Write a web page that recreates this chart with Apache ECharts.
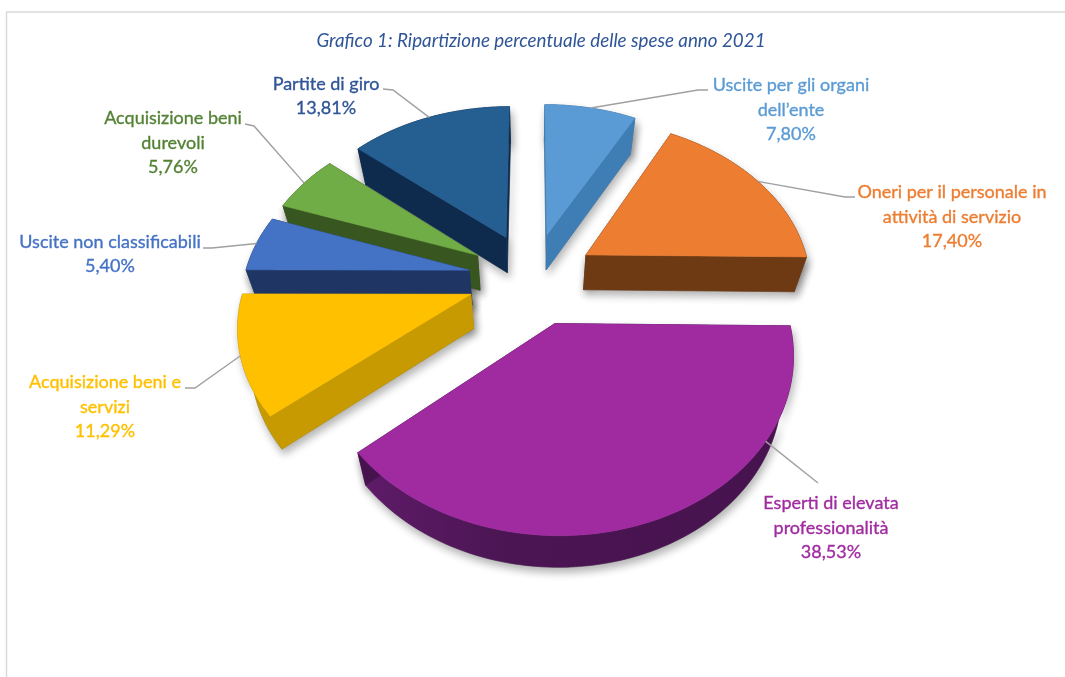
<!DOCTYPE html>
<html><head><meta charset="utf-8">
<style>html,body{margin:0;padding:0;background:#fff}#c{width:1065px;height:677px}</style>
<script src="https://cdn.jsdelivr.net/npm/echarts@6/dist/echarts.min.js"></script>
</head><body><div id="c"></div>
<script>
const categories = ["Uscite per gli organi\ndell’ente","Oneri per il personale in\nattività di servizio","Esperti di elevata\nprofessionalità","Acquisizione beni e\nservizi","Uscite non classificabili","Acquisizione beni\ndurevoli","Partite di giro"];
const shares = [7.80,17.40,38.53,11.29,5.40,5.76,13.81];
const shareLabels = ["7,80%","17,40%","38,53%","11,29%","5,40%","5,76%","13,81%"];
const topColors = ["#5b9bd5","#ed7d31","#a02ba0","#ffc000","#4472c4","#70ad47","#255e91"];
const wallColors = ["#3f7db5","#6e3a14","#47134f","#c69a00","#1f3664","#38561f","#0e2b4d"];
const textColors = ["#5b9bd5","#ed7d31","#a02ba0","#ffc000","#4472c4","#548235","#2f5597"];
const paintOrder = [6,0,5,1,4,3,2];
const labelCenters = [[791,110],[952,217],[831,528],[105,407],[110,254],[173,143],[326,96]];
const leaderAnchors = [0.5,0.5,0.26,0.5,0.5,0.5,0.5];
const leaderBends = [[[698,90],[708,90]],[[845,197],[855,197]],[[818,483]],[[195,388],[185,388]],[[212,248],[203,248]],[[254,126],[245,124]],[[393,90],[383,89]]];

const view = {vx:532, yh:-763, K:1041, c:0.1565, S:225, explode:0.285, shrink:0.955};
const total = shares.reduce((a,b)=>a+b,0);
const bounds = [0];
shares.forEach(v=>bounds.push(bounds[bounds.length-1]+v/total*Math.PI*2));
const project=(X,Y)=>{const w=1+view.c*Y;return [view.vx+view.S*X/w, view.yh+view.K/w];};
const drop=p=>[view.vx+(p[0]-view.vx)*view.shrink, p[1]+35-0.012*(p[1]-250)];

function sliceGeometry(i){
  const a0 = bounds[i], a1 = bounds[i+1], mid=(a0+a1)/2;
  const ox = view.explode*Math.sin(mid), oy = view.explode*Math.cos(mid);
  const at=(a,r)=>project(ox+r*Math.sin(a), oy+r*Math.cos(a));
  const n = Math.max(8,Math.round((a1-a0)*40));
  const arc=[]; for(let k=0;k<=n;k++) arc.push(at(a0+(a1-a0)*k/n,1));
  return {arc,apex:at(0,0),n,at,a0,a1};
}
const poly=(pts,fill,extra)=>({type:'polygon',shape:{points:pts},style:Object.assign({fill:fill,stroke:fill,lineWidth:0.5},extra||{})});
function renderShadow(params, api){
  const g = sliceGeometry(api.value(0));
  const s={shadowBlur:8,shadowColor:'rgba(0,0,0,0.3)',shadowOffsetY:5,shadowOffsetX:2};
  return {type:'group',children:[
    poly(g.arc.concat(g.arc.slice().reverse().map(drop)),'#888',s),
    poly([g.apex,g.arc[0],drop(g.arc[0]),drop(g.apex)],'#888',s),
    poly([g.apex,g.arc[g.n],drop(g.arc[g.n]),drop(g.apex)],'#888',s)
  ]};
}
function renderSlice(params, api){
  const i = api.value(0);
  const g = sliceGeometry(i);
  const wall=i===2?{type:'linear',x:0,y:0,x2:1,y2:0,colorStops:[{offset:0,color:'#5f1b69'},{offset:0.35,color:'#4a1552'},{offset:1,color:'#47134f'}]}:wallColors[i];
  return {type:'group',children:[
    poly(g.arc.concat(g.arc.slice().reverse().map(drop)),wall),
    poly([g.apex,g.arc[0],drop(g.arc[0]),drop(g.apex)],wallColors[i]),
    poly([g.apex,g.arc[g.n],drop(g.arc[g.n]),drop(g.apex)],wallColors[i]),
    poly([g.apex].concat(g.arc),topColors[i])
  ]};
}
function renderLabel(params, api){
  const i = api.value(0);
  const g = sliceGeometry(i);
  const start=g.at(g.a0+(g.a1-g.a0)*leaderAnchors[i],1);
  return {type:'group',children:[
    {type:'polyline',shape:{points:[start].concat(leaderBends[i])},style:{fill:'none',stroke:'#a0a0a0',lineWidth:1.4}},
    {type:'text',style:{x:labelCenters[i][0],y:labelCenters[i][1],text:categories[i]+"\n"+shareLabels[i],fill:textColors[i],
      stroke:textColors[i],lineWidth:0.35,font:'18px Lato',align:'center',verticalAlign:'middle',lineHeight:24.5}}
  ]};
}
const chart = echarts.init(document.getElementById('c'),null,{renderer:'canvas'});
chart.setOption({
  animation:false,
  backgroundColor:'#fff',
  title:{text:'Grafico 1: Ripartizione percentuale delle spese anno 2021',left:536,top:26,textAlign:'center',
    textStyle:{color:'#2f5597',fontFamily:'Lato',fontStyle:'italic',fontWeight:'normal',fontSize:18.8}},
  graphic:[
    {type:'polyline',shape:{points:[[6.5,677],[6.5,12],[1065,12]]},style:{fill:'none',stroke:'#d9d9d9',lineWidth:1.5},silent:true}
  ],
  series:[
    {type:'custom',coordinateSystem:'none',renderItem:renderShadow,data:paintOrder.map(i=>[i]),silent:true,z:1},
    {type:'custom',coordinateSystem:'none',renderItem:renderSlice,data:paintOrder.map(i=>[i]),silent:true,z:2},
    {type:'custom',coordinateSystem:'none',renderItem:renderLabel,data:shares.map((v,i)=>[i]),silent:true,z:3}
  ]
});
</script></body></html>
